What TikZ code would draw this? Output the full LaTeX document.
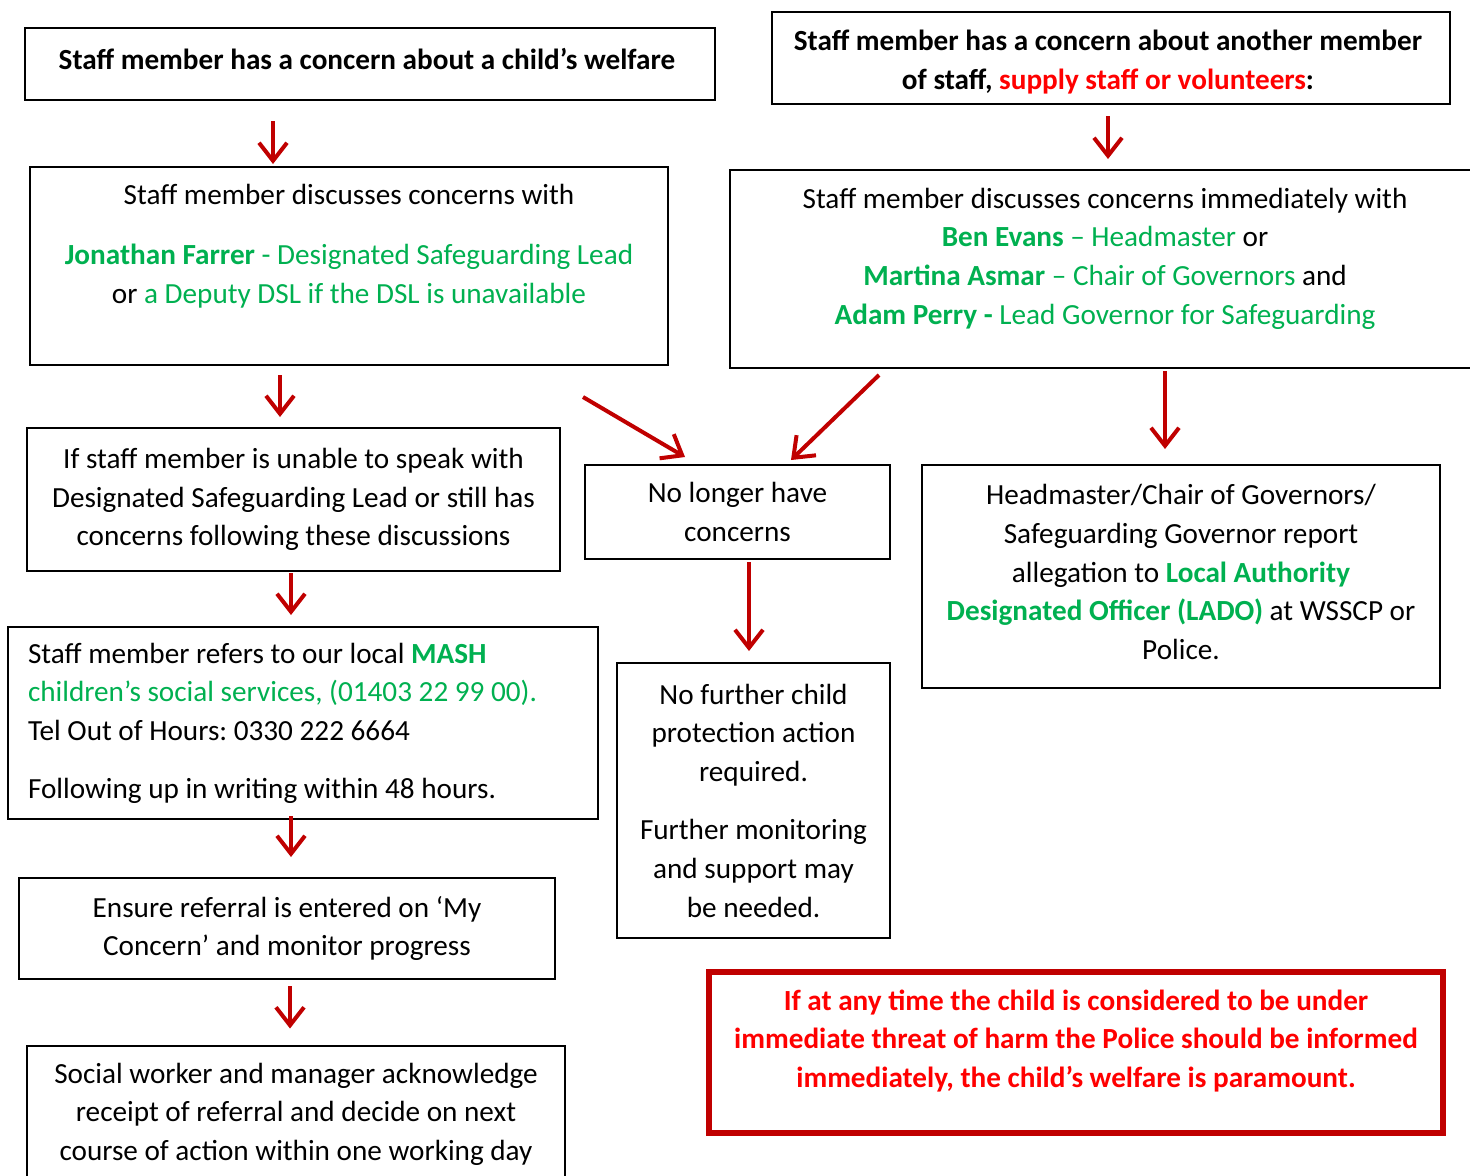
\documentclass[tikz,border=0pt]{standalone}
\usepackage{fontspec}
\setmainfont{Carlito}
\usetikzlibrary{arrows.meta,positioning,calc}
\definecolor{sgreen}{HTML}{00B050}
\definecolor{sred}{HTML}{FF0000}
\definecolor{arrowred}{HTML}{C00000}
\newcommand{\gr}[1]{\textcolor{sgreen}{#1}}
\newcommand{\rd}[1]{\textcolor{sred}{#1}}
\newcommand{\bodyfont}{\fontsize{14.6}{19.3}\selectfont\frenchspacing}

\begin{document}
\begin{tikzpicture}[x=0.5pt,y=-0.5pt,
  box/.style={draw,line width=1pt,inner sep=0pt,align=center,font=\bodyfont},
  txt/.style={inner sep=0pt,align=center,font=\bodyfont},
  arr/.style={draw=arrowred,line width=2pt,-{Straight Barb[length=9pt,width=14pt]}}]

\useasboundingbox (0,0) rectangle (1470,1175);

% left column
\node[box,minimum width=345pt,minimum height=36pt] (child) at (370,64) {};
\node[txt,font=\bodyfont\bfseries] (childtxt) at (367,59)
  {Staff member has a concern about a child’s welfare};
\node[box,minimum width=319pt,minimum height=99pt] (dsl) at (349,266) {};
\node[txt] (dsltxt) at (349,246)
  {Staff member discusses concerns with\\[11pt]
   \gr{\textbf{Jonathan Farrer} - Designated Safeguarding Lead}\\
   or \gr{a Deputy DSL if the DSL is unavailable}};
\node[box,minimum width=266.5pt,minimum height=71.5pt] (unable) at (293.5,499.5)
  {If staff member is unable to speak with\\
   Designated Safeguarding Lead or still has\\
   concerns following these discussions};
\node[box,align=flush left,text width=275pt,inner xsep=10pt,minimum height=96pt] (mash) at (303,723)
  {Staff member refers to our local \gr{\textbf{MASH}}\\
   \gr{children’s social services, (01403 22 99 00).}\\
   Tel Out of Hours: 0330 222 6664\\[9.5pt]
   Following up in writing within 48 hours.};
\node[box,minimum width=268pt,minimum height=50.5pt] (ensure) at (287,928.5)
  {Ensure referral is entered on ‘My\\
   Concern’ and monitor progress};
\node[box,minimum width=269pt,minimum height=68.5pt] (social) at (296,1114)
  {Social worker and manager acknowledge\\
   receipt of referral and decide on next\\
   course of action within one working day};

% middle column
\node[box,minimum width=152.5pt,minimum height=47pt] (nolonger) at (737.5,512)
  {No longer have\\ concerns};
\node[box,minimum width=136.5pt,minimum height=137.5pt] (nofurther) at (753.5,800.5)
  {No further child\\ protection action\\ required.\\[10pt]
   Further monitoring\\ and support may\\ be needed.};

% right column
\node[box,minimum width=339pt,minimum height=46pt] (staff) at (1111,58) {};
\node[txt,font=\bodyfont\bfseries] (stafftxt) at (1108,62)
  {Staff member has a concern about another member\\
   of staff, \rd{supply staff or volunteers}:};
\node[box,minimum width=373pt,minimum height=99pt] (head) at (1103,269) {};
\node[txt] (headtxt) at (1105,258.5)
  {Staff member discusses concerns immediately with\\
   \gr{\textbf{Ben Evans} – Headmaster} or\\
   \gr{\textbf{Martina Asmar} – Chair of Governors} and\\
   \gr{\textbf{Adam Perry -} Lead Governor for Safeguarding}};
\node[box,minimum width=259pt,minimum height=111.5pt] (lado) at (1181,576.5) {};
\node[txt] (ladotxt) at (1181,572)
  {Headmaster/Chair of Governors/\\
   Safeguarding Governor report\\
   allegation to \gr{\textbf{Local Authority}}\\
   \gr{\textbf{Designated Officer (LADO)}} at WSSCP or\\
   Police.};
\node[box,draw=arrowred,line width=3pt,minimum width=367pt,minimum height=80.5pt] (police) at (1076,1052.5) {};
\node[txt,text=sred,font=\bodyfont\bfseries] (policetxt) at (1076,1041)
  {If at any time the child is considered to be under\\
   immediate threat of harm the Police should be informed\\
   immediately, the child’s welfare is paramount.};

% arrows
\draw[arr] ($(child.south west)+(249,20)$) -- ($(dsl.north west)+(244,-2)$);
\draw[arr] ($(staff.south west)+(337,11)$) -- ($(head.north west)+(379,-10)$);
\draw[arr] ($(dsl.south west)+(251,9)$) -- ($(unable.north west)+(254,-10)$);
\draw[arr] ($(dsl.south east)+(-86,31)$) -- ($(nolonger.north west)+(101,-7)$);
\draw[arr] ($(head.south west)+(150,6)$) -- ($(nolonger.north east)+(-100,-4)$);
\draw[arr] ($(head.south west)+(436,2)$) -- ($(lado.north west)+(244,-15)$);
\draw[arr] ($(unable.south west)+(265,1)$) -- ($(mash.north west)+(284,-11)$);
\draw[arr] ($(nolonger.south west)+(165,2)$) -- ($(nofurther.north west)+(133,-11)$);
\draw[arr] ($(mash.south west)+(284,-4)$) -- ($(ensure.north west)+(273,-20)$);
\draw[arr] ($(ensure.south west)+(272,6)$) -- ($(social.north west)+(264,-16)$);
\end{tikzpicture}
\end{document}
